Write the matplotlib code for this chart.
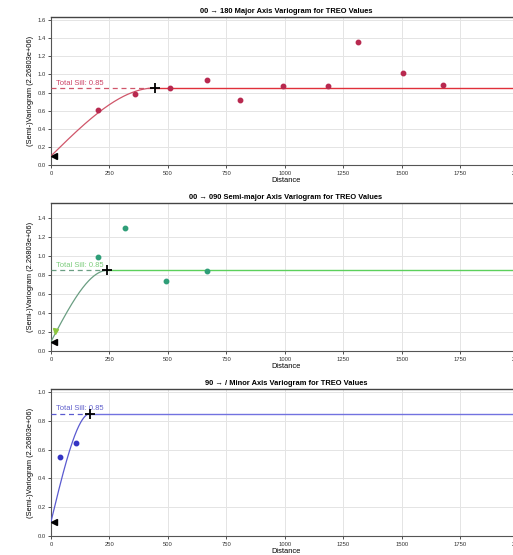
import numpy as np
import matplotlib
matplotlib.use("Agg")
import matplotlib.pyplot as plt

plt.rcParams['font.family'] = ['Liberation Sans', 'DejaVu Sans']

# ---- data ----
titles = ["00 \u2192 180 Major Axis Variogram for TREO Values",
          "00 \u2192 090 Semi-major Axis Variogram for TREO Values",
          "90 \u2192 / Minor Axis Variogram for TREO Values"]

lag1 = [200, 359, 511, 668, 810, 991, 1184, 1312, 1507, 1678]
gam1 = [0.607, 0.78, 0.855, 0.935, 0.717, 0.872, 0.868, 1.361, 1.019, 0.883]

lag2 = [18, 201, 318, 493, 668]
gam2 = [0.21, 0.994, 1.30, 0.74, 0.843]

lag3 = [37, 105]
gam3 = [0.549, 0.644]

nuggets = [0.10, 0.10, 0.10]
sills = [0.85, 0.85, 0.85]
ranges = [444, 241, 168]

point_colors = ["#b8294f", "#2f9e78", "#3434c4"]
curve_colors = ["#d0566a", "#6a9e82", "#5a5ad0"]
flat_colors = ["#e0303a", "#5cd05c", "#7272e0"]
text_colors = ["#cc4466", "#7ccc7c", "#6060cc"]

lags = [lag1, lag2, lag3]
gams = [gam1, gam2, gam3]

ylabel = "(Semi-)Variogram (2.26803e+06)"
xticks = [0, 250, 500, 750, 1000, 1250, 1500, 1750, 2000]
xmax = 2010

fig = plt.figure(figsize=(5.13, 5.55), dpi=100)
W, H = 513.0, 555.0
tops = [17, 203, 389]
bots = [165, 351, 536]
left, right = 51, 521


def spherical(h, c0, c, a):
    h = np.asarray(h, dtype=float)
    r = np.where(h < a, c0 + (c - c0) * (1.5 * h / a - 0.5 * (h / a) ** 3), c)
    return r


for i in range(3):
    ax = fig.add_axes([left / W, 1 - bots[i] / H, (right - left) / W,
                       (bots[i] - tops[i]) / H])
    ax.set_facecolor("white")
    ax.grid(True, color="#e4e4e4", linewidth=0.7)
    ax.set_axisbelow(True)
    for s in ["left", "bottom"]:
        ax.spines[s].set_color("#555555")
        ax.spines[s].set_linewidth(0.8)
    ax.spines["top"].set_color("#444444")
    ax.spines["top"].set_linewidth(1.0)
    ax.spines["right"].set_visible(False)

    x, y = lags[i], gams[i]
    c0, c, a = nuggets[i], sills[i], ranges[i]
    hh = np.linspace(0, a, 200)
    ax.plot(hh, spherical(hh, c0, c, a), color=curve_colors[i], lw=0.9, zorder=3)
    ax.plot([a, xmax], [c, c], color=flat_colors[i], lw=1.0, zorder=3)
    ax.plot([0, a], [c, c], color=curve_colors[i], lw=0.9, ls=(0, (4, 3)), zorder=3)
    ax.text(20, c + 0.012, f"Total Sill: {c:.2f}", color=text_colors[i],
            fontsize=5.5, va="bottom", ha="left")

    if i == 1:
        ax.plot(x[1:], y[1:], 'o', color=point_colors[i], ms=3.2, zorder=4)
        ax.plot(x[:1], y[:1], 'v', color="#8cc63f", ms=3.6, zorder=4)
    else:
        ax.plot(x, y, 'o', color=point_colors[i], ms=3.2, zorder=4)

    ax.plot([12], [c0], marker='<', color='black', ms=5, zorder=5, clip_on=False)
    ax.plot([a], [c], marker='+', color='black', ms=7, mew=1.3, zorder=5)

    ymax = 1.2 * max(max(y), c)
    ax.set_ylim(0, ymax)
    ax.set_xlim(0, xmax)
    ax.set_xticks(xticks)
    ax.set_yticks(np.arange(0, ymax + 1e-9, 0.2))
    ax.yaxis.set_major_formatter(matplotlib.ticker.FormatStrFormatter('%.1f'))
    ax.tick_params(labelsize=4.2, length=2, width=0.6, colors="#333333", pad=2)
    ax.set_title(titles[i], fontsize=5.4, fontweight='bold', pad=3)
    ax.set_xlabel("Distance", fontsize=5.4, labelpad=1)
    ax.set_ylabel(ylabel, fontsize=5.4, labelpad=2)

fig.savefig("out.png", dpi=100)
